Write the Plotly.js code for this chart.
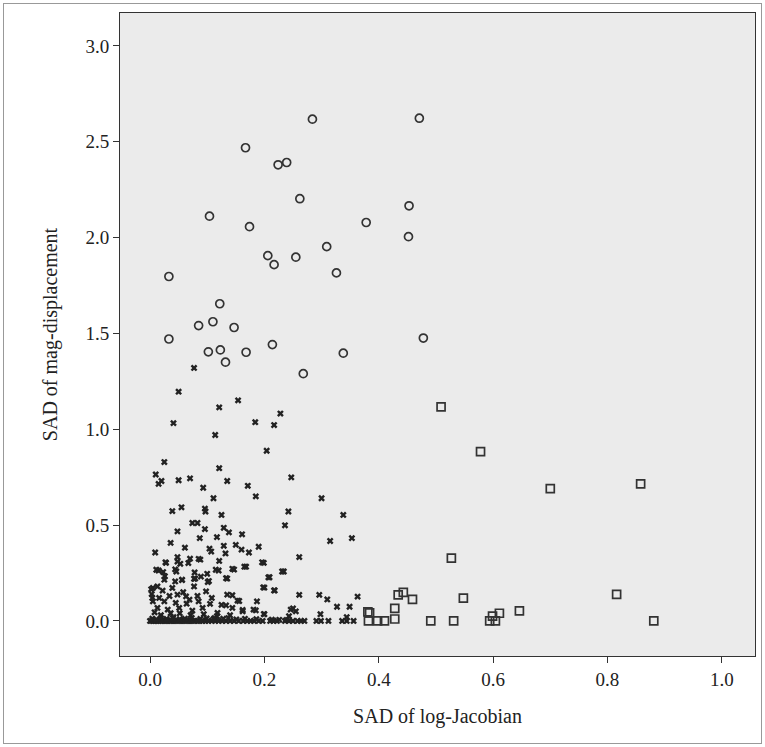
<!DOCTYPE html>
<html>
<head>
<meta charset="utf-8">
<script src="https://cdn.plot.ly/plotly-3.0.1.min.js"></script>
<style>
  body { margin: 0; background: #fff; }
  #plot { width: 765px; height: 747px; }
  #frame { position: absolute; left: 3px; top: 3px; width: 757px; height: 739px;
           border: 1px solid #999; pointer-events: none; }
</style>
</head>
<body>
<div id="plot"></div>
<div id="frame"></div>
<script>
// group 1: circles
let circ_x = [0.284, 0.471, 0.167, 0.224, 0.239, 0.262, 0.104, 0.174, 0.453, 0.378,
  0.452, 0.309, 0.206, 0.217, 0.255, 0.326, 0.033, 0.122, 0.085, 0.110,
  0.147, 0.033, 0.478, 0.214, 0.102, 0.123, 0.168, 0.338, 0.132, 0.268]
let circ_y = [2.618, 2.623, 2.469, 2.380, 2.392, 2.203, 2.112, 2.057, 2.166, 2.079,
  2.005, 1.953, 1.906, 1.859, 1.898, 1.816, 1.797, 1.655, 1.541, 1.561,
  1.531, 1.471, 1.476, 1.442, 1.404, 1.414, 1.402, 1.397, 1.350, 1.290]

// group 2: squares
let sq_x = [0.509, 0.578, 0.700, 0.858, 0.527, 0.434, 0.443, 0.459, 0.548, 0.816,
  0.381, 0.384, 0.428, 0.646, 0.611, 0.599, 0.428, 0.382, 0.398, 0.410,
  0.491, 0.531, 0.594, 0.604, 0.881]
let sq_y = [1.117, 0.883, 0.690, 0.715, 0.328, 0.136, 0.149, 0.112, 0.119, 0.139,
  0.047, 0.042, 0.065, 0.052, 0.040, 0.025, 0.010, 0.0, 0.0, 0.0,
  0.0, 0.0, 0.0, 0.0, 0.0]

// group 3: crosses
let cr_x = [0.077, 0.050, 0.154, 0.121, 0.228, 0.184, 0.041, 0.217, 0.114, 0.204,
  0.025, 0.121, 0.010, 0.247, 0.050, 0.070, 0.020, 0.015, 0.135, 0.171,
  0.093, 0.111, 0.185, 0.300, 0.039, 0.055, 0.096, 0.097, 0.125, 0.242,
  0.338, 0.074, 0.083, 0.236, 0.129, 0.048, 0.096, 0.138, 0.161, 0.087,
  0.117, 0.315, 0.353, 0.036, 0.061, 0.129, 0.150, 0.190, 0.104, 0.160,
  0.009, 0.107, 0.132, 0.173, 0.261, 0.048, 0.070, 0.088, 0.121, 0.199,
  0.028, 0.053, 0.168, 0.147, 0.234, 0.015, 0.046, 0.078, 0.100, 0.120,
  0.209, 0.135, 0.026, 0.056, 0.079, 0.103, 0.200, 0.218, 0.296, 0.261,
  0.310, 0.363, 0.327, 0.349, 0.255, 0.250, 0.185, 0.162, 0.125, 0.156,
  0.144, 0.298, 0.200, 0.243, 0.344,
  // lower cluster
  0.027, 0.048, 0.067, 0.085, 0.011, 0.023, 0.044, 0.115, 0.025, 0.044,
  0.056, 0.077, 0.089, 0.101, 0.005, 0.013, 0.022, 0.039, 0.077, 0.098,
  0.048, 0.063, 0.069, 0.005, 0.025, 0.045, 0.085, 0.105, 0.013, 0.031,
  0.051, 0.074, 0.092, 0.196, 0.144, 0.165, 0.231, 0.133, 0.207, 0.198,
  0.217, 0.135, 0.187, 0.153, 0.133, 0.144, 0.162, 0.181, 0.199, 0.118,
  0.246, 0.002, 0.003, 0.004, 0.016, 0.034, 0.058, 0.064, 0.083, 0.108,
  0.036, 0.019, 0.071, 0.052, 0.094, 0.117, 0.008, 0.041, 0.113, 0.140,
  // zero row
  0.0, 0.003, 0.006, 0.009, 0.012, 0.015, 0.018, 0.021, 0.025, 0.028,
  0.031, 0.035, 0.038, 0.042, 0.046, 0.050, 0.054, 0.058, 0.062, 0.066,
  0.070, 0.074, 0.078, 0.083, 0.087, 0.092, 0.097, 0.102, 0.108, 0.114,
  0.120, 0.126, 0.133, 0.140, 0.147, 0.155, 0.163, 0.170, 0.176, 0.182,
  0.190, 0.197, 0.210, 0.216, 0.222, 0.236, 0.243, 0.250, 0.258, 0.264,
  0.270, 0.291, 0.299, 0.312, 0.336, 0.344, 0.356,
  0.004, 0.011, 0.019, 0.029, 0.040, 0.052, 0.061, 0.073, 0.088, 0.099,
  0.111, 0.128, 0.137, 0.151, 0.166, 0.186, 0.213, 0.226, 0.239]
let cr_y = [1.320, 1.196, 1.151, 1.114, 1.082, 1.037, 1.032, 1.022, 0.970, 0.888,
  0.829, 0.797, 0.764, 0.749, 0.734, 0.744, 0.730, 0.715, 0.730, 0.705,
  0.695, 0.640, 0.650, 0.640, 0.573, 0.593, 0.586, 0.571, 0.553, 0.571,
  0.553, 0.511, 0.511, 0.499, 0.486, 0.467, 0.479, 0.462, 0.452, 0.432,
  0.437, 0.417, 0.432, 0.407, 0.382, 0.392, 0.397, 0.387, 0.377, 0.372,
  0.357, 0.362, 0.352, 0.357, 0.333, 0.333, 0.325, 0.320, 0.313, 0.303,
  0.303, 0.298, 0.283, 0.268, 0.258, 0.263, 0.258, 0.253, 0.246, 0.263,
  0.228, 0.221, 0.233, 0.213, 0.221, 0.208, 0.174, 0.159, 0.136, 0.136,
  0.112, 0.127, 0.074, 0.074, 0.050, 0.065, 0.055, 0.057, 0.084, 0.104,
  0.134, 0.035, 0.035, 0.025, 0.020,
  0.306, 0.310, 0.302, 0.324, 0.267, 0.255, 0.269, 0.267, 0.215, 0.206,
  0.215, 0.220, 0.231, 0.203, 0.172, 0.180, 0.158, 0.172, 0.180, 0.154,
  0.137, 0.128, 0.111, 0.102, 0.102, 0.094, 0.102, 0.089, 0.068, 0.059,
  0.068, 0.054, 0.068, 0.306, 0.272, 0.283, 0.258, 0.223, 0.227, 0.175,
  0.159, 0.137, 0.102, 0.106, 0.081, 0.068, 0.050, 0.059, 0.036, 0.042,
  0.059, 0.165, 0.140, 0.120, 0.120, 0.130, 0.150, 0.090, 0.130, 0.120,
  0.040, 0.030, 0.030, 0.040, 0.035, 0.025, 0.045, 0.020, 0.015, 0.030,
  0.0, 0.0, 0.0, 0.0, 0.0, 0.0, 0.0, 0.0, 0.0, 0.0,
  0.0, 0.0, 0.0, 0.0, 0.0, 0.0, 0.0, 0.0, 0.0, 0.0,
  0.0, 0.0, 0.0, 0.0, 0.0, 0.0, 0.0, 0.0, 0.0, 0.0,
  0.0, 0.0, 0.0, 0.0, 0.0, 0.0, 0.0, 0.0, 0.0, 0.0,
  0.0, 0.0, 0.0, 0.0, 0.0, 0.0, 0.0, 0.0, 0.0, 0.0,
  0.0, 0.0, 0.0, 0.0, 0.0, 0.0, 0.0,
  0.012, 0.008, 0.015, 0.010, 0.014, 0.009, 0.012, 0.016, 0.010, 0.013,
  0.009, 0.012, 0.015, 0.008, 0.011, 0.009, 0.007, 0.006, 0.005]

let x_ticks = [0.0, 0.2, 0.4, 0.6, 0.8, 1.0]
let y_ticks = [0.0, 0.5, 1.0, 1.5, 2.0, 2.5, 3.0]

let trace_cross = {
  x: cr_x, y: cr_y, mode: "markers", type: "scatter",
  marker: {symbol: "x", size: 6, color: "#222", line: {width: 0}}
};
let trace_circ = {
  x: circ_x, y: circ_y, mode: "markers", type: "scatter",
  marker: {symbol: "circle-open", size: 8, color: "#333", line: {width: 1.7}}
};
let trace_sq = {
  x: sq_x, y: sq_y, mode: "markers", type: "scatter",
  marker: {symbol: "square-open", size: 8, color: "#333", line: {width: 1.7}}
};

let layout = {
  width: 765, height: 747,
  margin: {l: 120, r: 10, t: 13, b: 91},
  paper_bgcolor: "#fff",
  plot_bgcolor: "#ebebeb",
  showlegend: false,
  font: {family: "Liberation Serif, serif", size: 19, color: "#222"},
  xaxis: {
    range: [-0.0525, 1.058], tickvals: x_ticks, tickformat: ".1f",
    showgrid: false, zeroline: false, showline: true, mirror: true,
    linecolor: "#333", linewidth: 1, ticks: "outside", ticklen: 6, tickcolor: "#333",
    tickfont: {size: 19},
    title: {text: "SAD of log-Jacobian", font: {size: 20}, standoff: 20}
  },
  yaxis: {
    range: [-0.183, 3.172], tickvals: y_ticks, tickformat: ".1f",
    showgrid: false, zeroline: false, showline: true, mirror: true,
    linecolor: "#333", linewidth: 1, ticks: "outside", ticklen: 6, tickcolor: "#333",
    tickfont: {size: 19},
    title: {text: "SAD of mag-displacement", font: {size: 20}, standoff: 22}
  }
};

Plotly.newPlot("plot", [trace_cross, trace_circ, trace_sq], layout, {displayModeBar: false});
</script>
</body>
</html>
